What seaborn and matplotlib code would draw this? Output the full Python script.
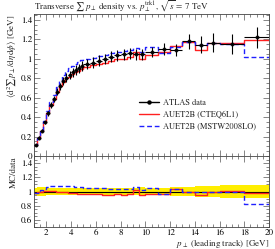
# transverse sum pT density vs leading track pT, ATLAS 7 TeV vs AUET2B tunes
import numpy as np
import pandas as pd
import matplotlib
matplotlib.use('Agg')
from matplotlib import pyplot as plt
from matplotlib.ticker import MultipleLocator, FormatStrFormatter
from matplotlib.lines import Line2D
import seaborn as sns

#* bin edges in pT lead [GeV]
bin_edges = [1.0, 1.25, 1.5, 1.75, 2.0, 2.25, 2.5, 2.75, 3.0, 3.25, 3.5, 3.75, 4.0,
             4.25, 4.5, 4.75, 5.0, 5.5, 6.0, 6.5, 7.0, 7.5, 8.0, 8.5, 9.0, 9.5, 10.0,
             11.0, 12.0, 13.0, 14.0, 15.0, 16.0, 18.0, 20.0]

data_y = [0.115, 0.190, 0.262, 0.345, 0.437, 0.523, 0.585, 0.660, 0.715, 0.768,
          0.805, 0.833, 0.861, 0.884, 0.900, 0.926, 0.943, 0.960, 0.980, 0.998,
          1.020, 1.035, 1.045, 1.057, 1.046, 1.046, 1.073, 1.100, 1.090, 1.180,
          1.145, 1.165, 1.150, 1.220]
data_err = [0.006, 0.011, 0.015, 0.020, 0.024, 0.029, 0.032, 0.036, 0.039, 0.042,
            0.044, 0.046, 0.047, 0.049, 0.050, 0.051, 0.052, 0.053, 0.054, 0.055,
            0.056, 0.057, 0.058, 0.058, 0.058, 0.059, 0.050, 0.060, 0.065, 0.075,
            0.090, 0.095, 0.100, 0.110]

cteq6l1 = [0.113, 0.188, 0.262, 0.348, 0.441, 0.528, 0.591, 0.660, 0.715, 0.760,
           0.797, 0.816, 0.844, 0.866, 0.873, 0.898, 0.915, 0.931, 0.941, 0.953,
           0.974, 0.994, 0.998, 1.015, 1.067, 0.994, 1.041, 1.067, 1.134, 1.168,
           1.088, 1.165, 1.162, 1.196]
mstw2008lo = [0.112, 0.186, 0.267, 0.359, 0.463, 0.560, 0.632, 0.713, 0.772, 0.829,
              0.869, 0.900, 0.926, 0.946, 0.963, 0.982, 0.995, 1.008, 1.029, 1.043,
              1.061, 1.071, 1.082, 1.089, 1.109, 1.067, 1.121, 1.056, 1.123, 1.174,
              1.139, 1.165, 1.150, 1.013]

edges = np.array(bin_edges)
centers = 0.5 * (edges[1:] + edges[:-1])
half_w = 0.5 * (edges[1:] - edges[:-1])
dy = np.array(data_y)
derr = np.array(data_err)

RED = '#ff2020'
BLUE = '#2020ff'
DASH = (0, (3.5, 2))


def steps(vals):
    # step frame: value held until next edge
    return pd.DataFrame({'x': edges, 'y': list(vals) + [vals[-1]]})


sns.set_theme(style='ticks')
plt.rcParams['font.family'] = ['STIXGeneral', 'DejaVu Serif']
plt.rcParams['mathtext.fontset'] = 'stix'
plt.rcParams['font.size'] = 6.5

fig = plt.figure(figsize=(2.75, 2.49), dpi=100)
ax = fig.add_axes([34 / 275, 93 / 249, 235 / 275, 142 / 249])
rax = fig.add_axes([34 / 275, 22 / 249, 235 / 275, 71 / 249], sharex=ax)

# main panel
sns.lineplot(data=steps(cteq6l1), x='x', y='y', ax=ax, drawstyle='steps-post',
             estimator=None, sort=False, color=RED, lw=1.0)
sns.lineplot(data=steps(mstw2008lo), x='x', y='y', ax=ax, drawstyle='steps-post',
             estimator=None, sort=False, color=BLUE, lw=1.0, linestyle=DASH)
ax.errorbar(centers, dy, yerr=derr, xerr=half_w, fmt='none', ecolor='black', elinewidth=0.8)
sns.scatterplot(x=centers, y=dy, ax=ax, color='black', s=6, marker='o', edgecolor='black',
                linewidth=0.3, zorder=5)

ax.set_xlim(1, 20)
ax.set_ylim(0, 1.46)
ax.set_xlabel('')
ax.set_ylabel(r'$\langle\mathrm{d}^2 \sum p_\perp / \mathrm{d}\eta\,\mathrm{d}\phi\rangle$ [GeV]',
              fontsize=6.5, loc='top', labelpad=2)
ax.set_title(r'Transverse $\sum\, p_\perp$ density vs. $p_\perp^\mathrm{trk1}$, $\sqrt{s}$ = 7 TeV',
             fontsize=6.5, loc='left', pad=2)
ax.tick_params(labelbottom=False)

handles = [Line2D([], [], color='black', marker='o', markersize=2.2, lw=1.0),
           Line2D([], [], color=RED, lw=1.0),
           Line2D([], [], color=BLUE, lw=1.0, linestyle=DASH)]
ax.legend(handles, ['ATLAS data', 'AUET2B (CTEQ6L1)', 'AUET2B (MSTW2008LO)'],
          loc='upper left', bbox_to_anchor=(139 / 275, 150 / 249), bbox_transform=fig.transFigure,
          frameon=False, fontsize=6.0, handlelength=2.4, handletextpad=0.5,
          labelspacing=0.45, borderpad=0, borderaxespad=0)

# ratio panel
rel = derr / dy
band_lo = list(1 - rel)
band_hi = list(1 + rel)
rax.fill_between(edges, band_lo + [band_lo[-1]], band_hi + [band_hi[-1]], step='post',
                 color='#ffee00', lw=0)
rax.axhline(1.0, color='black', lw=0.8)
sns.lineplot(data=steps(np.array(cteq6l1) / dy), x='x', y='y', ax=rax, drawstyle='steps-post',
             estimator=None, sort=False, color=RED, lw=1.0)
sns.lineplot(data=steps(np.array(mstw2008lo) / dy), x='x', y='y', ax=rax, drawstyle='steps-post',
             estimator=None, sort=False, color=BLUE, lw=1.0, linestyle=DASH)
rax.set_ylim(0.5, 1.5)
rax.set_xlim(1, 20)
rax.set_ylabel('MC/data', fontsize=6.5, loc='top', labelpad=2)
rax.set_xlabel(r'$p_\perp$ (leading track) [GeV]', fontsize=6.5, loc='right', labelpad=0)

for a in (ax, rax):
    a.xaxis.set_major_locator(MultipleLocator(2))
    a.xaxis.set_minor_locator(MultipleLocator(0.5))
    a.yaxis.set_major_locator(MultipleLocator(0.2))
    a.yaxis.set_minor_locator(MultipleLocator(0.05))
    a.yaxis.set_major_formatter(FormatStrFormatter('%g'))
    a.tick_params(which='both', direction='in', top=True, right=True, labelsize=6.5,
                  width=0.5, colors='#555555', labelcolor='black', pad=1.5)
    a.tick_params(which='major', length=4)
    a.tick_params(which='minor', length=2)
    for s in a.spines.values():
        s.set_linewidth(0.6)
        s.set_color('#444444')
rax.xaxis.set_major_formatter(FormatStrFormatter('%g'))
rax.set_yticks([0.6, 0.8, 1.0, 1.2, 1.4])

plt.savefig('out.png', dpi=100)
plt.close()
